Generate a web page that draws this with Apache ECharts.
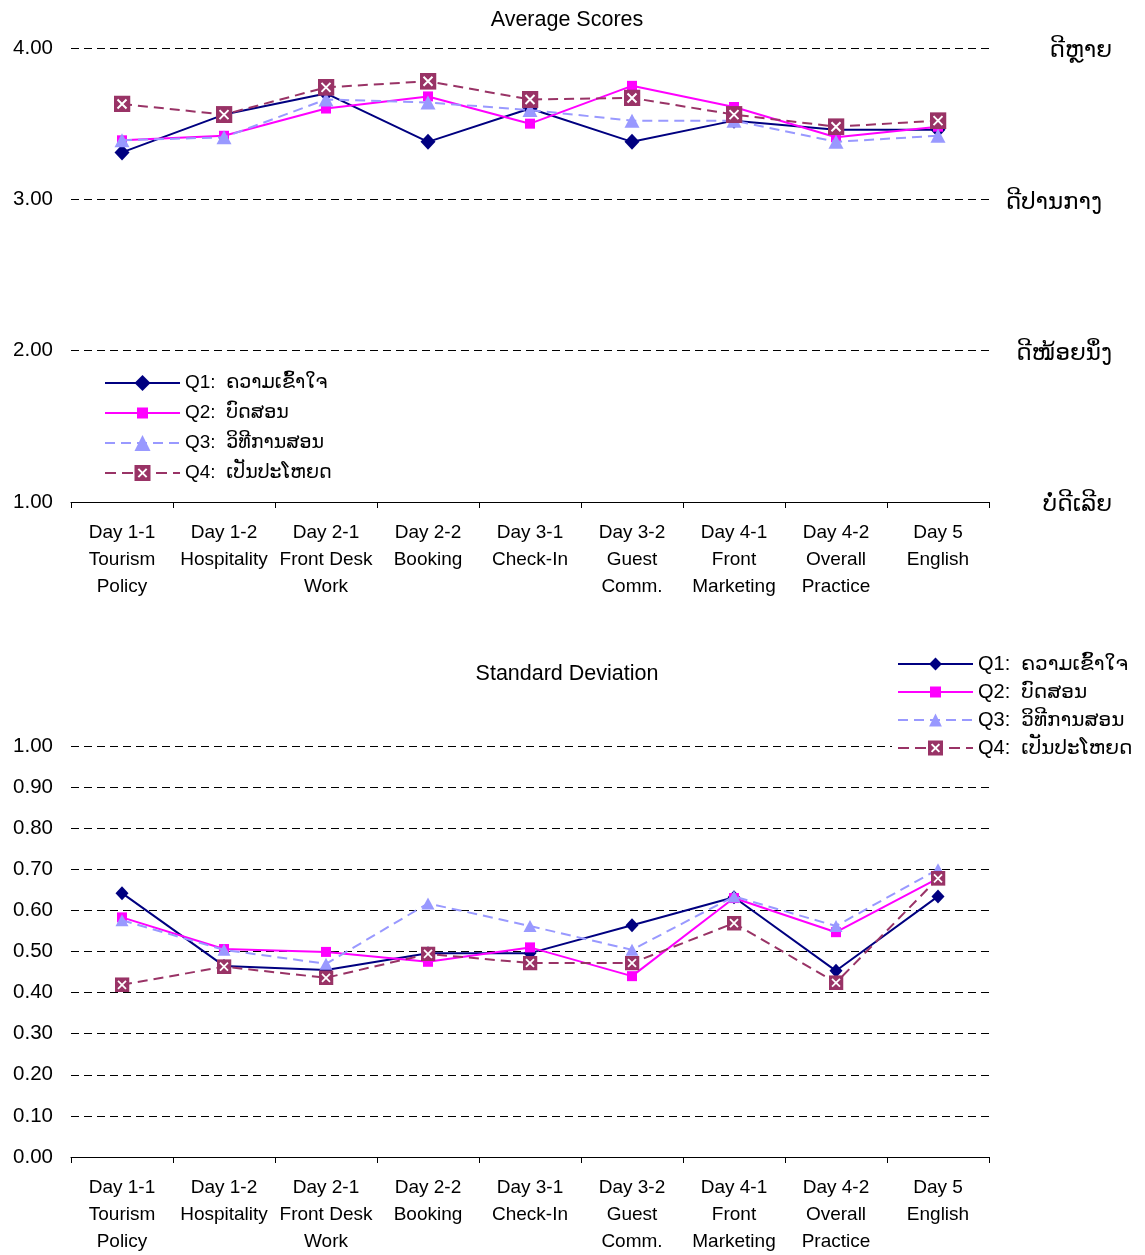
<!DOCTYPE html>
<html>
<head>
<meta charset="utf-8">
<script src="https://cdn.jsdelivr.net/npm/echarts@6/dist/echarts.min.js"></script>
<style>
html,body{margin:0;padding:0;background:#fff;}
#chart{width:1145px;height:1255px;}
</style>
</head>
<body>
<div id="chart"></div>
<script>
const categories = [
  "Day 1-1\nTourism\nPolicy",
  "Day 1-2\nHospitality",
  "Day 2-1\nFront Desk\nWork",
  "Day 2-2\nBooking",
  "Day 3-1\nCheck-In",
  "Day 3-2\nGuest\nComm.",
  "Day 4-1\nFront\nMarketing",
  "Day 4-2\nOverall\nPractice",
  "Day 5\nEnglish"
];
const seriesNames = ["Q1:  ຄວາມເຂົ້າໃຈ", "Q2:  ບົດສອນ", "Q3:  ວິທີການສອນ", "Q4:  ເປັນປະໂຫຍດ"];

const avgQ1 = [3.31, 3.56, 3.70, 3.38, 3.60, 3.38, 3.52, 3.46, 3.46];
const avgQ2 = [3.39, 3.42, 3.60, 3.68, 3.50, 3.75, 3.61, 3.41, 3.48];
const avgQ3 = [3.39, 3.41, 3.66, 3.64, 3.59, 3.52, 3.52, 3.38, 3.42];
const avgQ4 = [3.63, 3.56, 3.74, 3.78, 3.66, 3.67, 3.56, 3.48, 3.52];

const sdQ1 = [0.642, 0.465, 0.455, 0.496, 0.496, 0.564, 0.632, 0.453, 0.634];
const sdQ2 = [0.583, 0.506, 0.499, 0.475, 0.510, 0.440, 0.630, 0.547, 0.678];
const sdQ3 = [0.576, 0.504, 0.470, 0.617, 0.562, 0.504, 0.634, 0.562, 0.700];
const sdQ4 = [0.419, 0.463, 0.436, 0.494, 0.472, 0.472, 0.569, 0.424, 0.678];

const avgTicks = {1: "ບໍ່ດີເລີຍ", 2: "ດີໜ້ອຍນຶ່ງ", 3: "ດີປານກາງ", 4: "ດີຫຼາຍ"};

const FONT = "'Liberation Sans', Arial, 'DejaVu Sans', sans-serif";
const colors = ["#000080", "#FF00FF", "#9999FF", "#993366"];

function svgUrl(svg) {
  return "image://data:image/svg+xml;charset=utf-8," + encodeURIComponent(svg);
}
function boxX() {
  return svgUrl("<svg xmlns='http://www.w3.org/2000/svg' width='34' height='34' viewBox='0 0 17 17'>" +
    "<rect width='17' height='17' fill='#993366'/>" +
    "<path d='M4 4L13 13M13 4L4 13' stroke='#ffffff' stroke-width='2'/></svg>");
}
function lineSquareIcon(w, h, sq) {
  return svgUrl("<svg xmlns='http://www.w3.org/2000/svg' width='" + (w * 2) + "' height='" + (h * 2) +
    "' viewBox='0 0 " + w + " " + h + "'>" +
    "<line x1='0' y1='" + (h / 2) + "' x2='" + w + "' y2='" + (h / 2) + "' stroke='#FF00FF' stroke-width='2'/>" +
    "<rect x='" + ((w - sq) / 2) + "' y='" + ((h - sq) / 2) + "' width='" + sq + "' height='" + sq + "' fill='#FF00FF'/></svg>");
}
function lineBoxIcon(w, h, sq) {
  const x0 = (w - sq) / 2, y0 = (h - sq) / 2, p = sq * 0.24;
  return svgUrl("<svg xmlns='http://www.w3.org/2000/svg' width='" + (w * 2) + "' height='" + (h * 2) +
    "' viewBox='0 0 " + w + " " + h + "'>" +
    "<line x1='0' y1='" + (h / 2) + "' x2='" + w + "' y2='" + (h / 2) + "' stroke='#993366' stroke-width='2' stroke-dasharray='11,6'/>" +
    "<rect x='" + x0 + "' y='" + y0 + "' width='" + sq + "' height='" + sq + "' fill='#993366'/>" +
    "<path d='M" + (x0 + p) + " " + (y0 + p) + "L" + (x0 + sq - p) + " " + (y0 + sq - p) +
    "M" + (x0 + sq - p) + " " + (y0 + p) + "L" + (x0 + p) + " " + (y0 + sq - p) +
    "' stroke='#ffffff' stroke-width='2'/></svg>");
}

function makeSeries(data, i, xi, big) {
  const sym = [
    {symbol: "diamond", size: big ? [15, 16] : [13, 14]},
    {symbol: "rect", size: 10},
    {symbol: "triangle", size: big ? [15, 14] : [13, 12]},
    {symbol: boxX(), size: big ? 17 : 15}
  ][i];
  return {
    name: seriesNames[i],
    type: "line",
    xAxisIndex: xi,
    yAxisIndex: xi === 0 ? 0 : 2,
    data: data,
    symbol: sym.symbol,
    symbolSize: sym.size,
    showAllSymbol: true,
    animation: false,
    z: 2 + i,
    itemStyle: {color: colors[i], opacity: 1},
    lineStyle: {
      color: colors[i],
      width: 2,
      type: (i >= 2) ? [10, 6] : "solid"
    }
  };
}

const chart = echarts.init(document.getElementById("chart"), null, {renderer: "canvas"});

const xAxisCommon = {
  type: "category",
  data: categories,
  boundaryGap: true,
  axisLine: {show: true, lineStyle: {color: "#000", width: 1}},
  axisTick: {show: true, length: 6, alignWithLabel: false, lineStyle: {color: "#000"}},
  axisLabel: {interval: 0, color: "#000", fontFamily: FONT, fontSize: 19, lineHeight: 27, margin: 17},
  splitLine: {show: false}
};

const splitDash = {show: true, lineStyle: {color: "#000", width: 1, type: [8, 5]}};

function legendData(w, h, sq, box) {
  return seriesNames.map((n, i) => {
    if (i === 1) return {name: n, icon: lineSquareIcon(w, h, sq)};
    if (i === 3) return {name: n, icon: lineBoxIcon(w, h, box)};
    return {name: n};
  });
}

const option = {
  backgroundColor: "#fff",
  animation: false,
  textStyle: {fontFamily: FONT},
  title: [
    {text: "Average Scores", left: 562, top: 4, textAlign: "center",
     textStyle: {fontFamily: FONT, fontSize: 21.5, fontWeight: "normal", color: "#000"}},
    {text: "Standard Deviation", left: 562, top: 658, textAlign: "center",
     textStyle: {fontFamily: FONT, fontSize: 21.5, fontWeight: "normal", color: "#000"}}
  ],
  legend: [
    {
      orient: "vertical", left: 99, top: 368, padding: [5, 5],
      itemWidth: 75, itemHeight: 20, itemGap: 10,
      data: legendData(75, 20, 11, 16),
      textStyle: {fontFamily: FONT, fontSize: 19, lineHeight: 20, color: "#000"}
    },
    {
      orient: "vertical", left: 892, top: 649, padding: [5, 5],
      backgroundColor: "#fff",
      itemWidth: 75, itemHeight: 16, itemGap: 8,
      data: legendData(75, 16, 11, 15),
      textStyle: {fontFamily: FONT, fontSize: 20, lineHeight: 20, color: "#000"}
    }
  ],
  grid: [
    {left: 71, top: 48, width: 918, height: 454, containLabel: false},
    {left: 71, top: 746, width: 918, height: 413, containLabel: false}
  ],
  xAxis: [
    Object.assign({gridIndex: 0}, xAxisCommon),
    Object.assign({gridIndex: 1}, xAxisCommon)
  ],
  yAxis: [
    {
      gridIndex: 0, type: "value", min: 1, max: 4, interval: 1,
      axisLine: {show: false}, axisTick: {show: false},
      axisLabel: {color: "#000", fontFamily: FONT, fontSize: 20.5, margin: 18,
                  formatter: v => v.toFixed(2)},
      splitLine: splitDash
    },
    {
      gridIndex: 0, type: "value", position: "right", min: 1, max: 4, interval: 1,
      axisLine: {show: false}, axisTick: {show: false}, splitLine: {show: false},
      axisLabel: {color: "#000", fontFamily: FONT, fontSize: 23, margin: 123, align: "right",
                  formatter: v => {
                    const k = Math.round(v);
                    return k === 3 ? "{p|" + avgTicks[k] + "}" : "{n|" + (avgTicks[k] || "") + "}";
                  },
                  rich: {
                    n: {fontFamily: FONT, fontSize: 23, color: "#000", padding: [6, 0, 0, 0]},
                    p: {fontFamily: FONT, fontSize: 23, color: "#000", padding: [6, 10, 0, 0]}
                  }}
    },
    {
      gridIndex: 1, type: "value", min: 0, max: 1, interval: 0.1,
      axisLine: {show: false}, axisTick: {show: false},
      axisLabel: {color: "#000", fontFamily: FONT, fontSize: 20.5, margin: 18,
                  formatter: v => v.toFixed(2)},
      splitLine: splitDash
    }
  ],
  series: [
    makeSeries(avgQ1, 0, 0, true),
    makeSeries(avgQ2, 1, 0, true),
    makeSeries(avgQ3, 2, 0, true),
    makeSeries(avgQ4, 3, 0, true),
    makeSeries(sdQ1, 0, 1, false),
    makeSeries(sdQ2, 1, 1, false),
    makeSeries(sdQ3, 2, 1, false),
    makeSeries(sdQ4, 3, 1, false)
  ]
};
chart.setOption(option);
</script>
</body>
</html>
